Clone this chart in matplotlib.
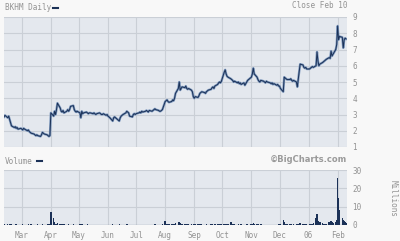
import matplotlib
matplotlib.use("Agg")
import matplotlib.pyplot as plt
from matplotlib.lines import Line2D
import pandas as pd

# month segments: (first day, last day) of each block of trading days
months = [("2005-02-10", "2005-02-28"), ("2005-03-01", "2005-03-31"),
          ("2005-04-01", "2005-04-30"), ("2005-05-01", "2005-05-31"),
          ("2005-06-01", "2005-06-30"), ("2005-07-01", "2005-07-31"),
          ("2005-08-01", "2005-08-31"), ("2005-09-01", "2005-09-30"),
          ("2005-10-01", "2005-10-31"), ("2005-11-01", "2005-11-30"),
          ("2005-12-01", "2005-12-31"), ("2006-01-01", "2006-01-31"),
          ("2006-02-01", "2006-02-10")]

# daily close, one list per month
close_feb05 = [2.85, 2.95, 2.8, 2.9, 2.7, 2.5, 2.3, 2.2, 2.25, 2.15, 2.2, 2.1, 2.15]
close_mar05 = [2.1, 2.05, 2.15, 2.1, 2.0, 2.05, 1.95, 1.9, 1.85, 1.8, 1.75, 1.7,
               1.75, 1.7, 1.65, 1.75, 1.9, 1.85, 1.8, 1.75, 1.7, 1.65, 1.7]
close_apr05 = [3.1, 2.9, 3.2, 3.0, 3.3, 3.7, 3.4, 3.2, 3.15, 3.25, 3.1, 3.2, 3.3,
               3.2, 3.3, 3.5, 3.55, 3.3, 3.2, 3.15, 3.2]
close_may05 = [3.1, 2.8, 3.2, 3.05, 3.1, 3.15, 3.1, 3.05, 3.1, 3.1, 3.05, 3.1,
               3.05, 3.0, 3.05, 3.1, 3.05, 3.0, 3.0, 3.05, 2.95, 3.0]
close_jun05 = [2.9, 2.85, 2.8, 2.6, 2.8, 2.85, 2.8, 2.75, 2.6, 2.8, 2.9, 2.95,
               3.0, 3.1, 3.2, 3.15, 3.1, 2.9, 2.85, 3.0, 3.05, 3.0]
close_jul05 = [3.05, 3.1, 3.15, 3.1, 3.2, 3.15, 3.2, 3.25, 3.2, 3.15, 3.25, 3.2,
               3.25, 3.3, 3.35, 3.3, 3.25, 3.2, 3.2, 3.25, 3.3]
close_aug05 = [3.8, 3.85, 3.9, 3.8, 3.75, 3.8, 3.9, 3.85, 4.0, 4.3, 4.6, 5.0,
               4.5, 4.6, 4.7, 4.65, 4.75, 4.6, 4.55, 4.6, 4.5, 4.4, 4.1]
close_sep05 = [4.0, 4.1, 4.05, 4.15, 4.3, 4.35, 4.4, 4.35, 4.3, 4.4, 4.45, 4.5,
               4.55, 4.65, 4.7, 4.6, 4.75, 4.85, 4.95, 5.0, 4.95, 5.05]
close_oct05 = [5.6, 5.75, 5.5, 5.35, 5.3, 5.2, 5.15, 5.1, 5.0, 5.05, 4.95, 5.0,
               4.9, 4.95, 4.85, 4.95, 4.8, 4.9, 5.0, 5.1, 5.25]
close_nov05 = [5.3, 5.5, 5.85, 5.5, 5.3, 5.15, 5.05, 5.0, 5.1, 5.05, 5.0, 4.95,
               5.05, 5.0, 4.95, 4.9, 4.95, 4.85, 4.9, 4.8, 4.85, 4.75]
close_dec05 = [4.75, 4.6, 4.4, 5.3, 5.25, 5.2, 5.15, 5.15, 5.2, 5.1, 5.05, 5.1,
               5.0, 4.7, 5.2, 5.65, 6.1, 6.05, 5.9, 5.85, 5.9, 5.8]
close_jan06 = [5.8, 5.85, 5.9, 5.95, 5.9, 6.0, 6.85, 6.3, 6.0, 6.1, 6.2, 6.25,
               6.3, 6.35, 6.4, 6.5, 6.45, 6.9, 6.6, 6.7, 7.0, 7.3]
close_feb06 = [8.45, 7.6, 7.8, 7.75, 7.1, 7.6, 7.7, 7.65]

# daily volume in millions
vol_feb05 = [0.3, 0.2, 0.3, 0.2, 0.8, 0.4, 0.3, 0.2, 0.2, 0.3, 0.2, 0.2, 0.2]
vol_mar05 = [0.2, 0.3, 0.2, 0.2, 0.2, 0.5, 0.2, 0.2, 0.3, 0.2, 0.2, 0.2, 0.2,
             0.3, 0.2, 0.2, 0.4, 0.2, 0.2, 0.2, 0.3, 0.2, 0.3]
vol_apr05 = [7.2, 4.0, 1.5, 0.6, 0.5, 1.0, 0.4, 0.3, 0.3, 0.2, 0.3, 0.2, 0.2,
             0.3, 0.2, 0.2, 0.3, 0.2, 0.2, 0.2, 0.2]
vol_may05 = [0.3, 0.6, 0.3, 0.2, 0.2, 0.2, 0.3, 0.2, 0.2, 0.2, 0.2, 0.2, 0.2,
             0.2, 0.2, 0.2, 0.2, 0.2, 0.2, 0.2, 0.2, 0.2]
vol_jun05 = [0.2, 0.2, 0.2, 0.3, 0.2, 0.2, 0.2, 0.2, 0.3, 0.2, 0.2, 0.2, 0.2,
             0.2, 0.3, 0.2, 0.2, 0.2, 0.2, 0.2, 0.2, 0.2]
vol_jul05 = [0.2, 0.2, 0.2, 0.2, 0.2, 0.2, 0.2, 0.2, 0.2, 0.2, 0.2, 0.2, 0.2,
             0.2, 0.3, 0.2, 0.2, 0.2, 0.2, 0.2, 0.3]
vol_aug05 = [2.2, 0.8, 0.6, 0.4, 0.5, 0.4, 0.6, 0.5, 0.8, 1.2, 1.4, 1.6, 1.0,
             0.6, 0.5, 0.4, 0.5, 0.3, 0.3, 0.3, 0.3, 0.2, 0.4]
vol_sep05 = [0.5, 0.3, 0.3, 0.2, 0.3, 0.3, 0.2, 0.2, 0.2, 0.3, 0.2, 0.2, 0.3,
             0.3, 0.2, 0.2, 0.3, 0.3, 0.4, 0.3, 0.3, 0.4]
vol_oct05 = [0.8, 0.6, 0.4, 0.5, 0.4, 1.8, 0.6, 0.4, 0.3, 0.3, 0.2, 0.3, 0.2,
             0.2, 0.3, 0.2, 0.2, 0.2, 0.3, 0.3, 0.4]
vol_nov05 = [0.5, 0.6, 1.0, 0.5, 0.3, 0.3, 0.2, 0.2, 0.3, 0.2, 0.2, 0.2, 0.2,
             0.2, 0.2, 0.2, 0.2, 0.2, 0.2, 0.2, 0.2, 0.3]
vol_dec05 = [0.4, 0.8, 2.8, 1.5, 0.6, 0.4, 0.3, 0.3, 0.3, 0.2, 0.2, 0.3, 0.3,
             0.5, 0.8, 0.6, 1.0, 0.6, 0.5, 0.4, 0.3, 0.3]
vol_jan06 = [0.4, 0.5, 0.6, 0.8, 1.2, 3.9, 6.1, 2.0, 1.2, 1.5, 1.0, 0.8, 0.6,
             0.7, 0.8, 1.5, 1.2, 2.0, 1.5, 1.2, 1.8, 3.0]
vol_feb06 = [25.5, 15.0, 8.0, 4.0, 3.0, 2.0, 1.5, 1.0]

closes = [close_feb05, close_mar05, close_apr05, close_may05, close_jun05,
          close_jul05, close_aug05, close_sep05, close_oct05, close_nov05,
          close_dec05, close_jan06, close_feb06]
volumes = [vol_feb05, vol_mar05, vol_apr05, vol_may05, vol_jun05, vol_jul05,
           vol_aug05, vol_sep05, vol_oct05, vol_nov05, vol_dec05, vol_jan06,
           vol_feb06]

month_ticks = ["2005-03-01", "2005-04-01", "2005-05-01", "2005-06-01",
               "2005-07-01", "2005-08-01", "2005-09-01", "2005-10-01",
               "2005-11-01", "2005-12-01", "2006-01-01", "2006-02-01"]
month_labels = ["Mar", "Apr", "May", "Jun", "Jul", "Aug", "Sep", "Oct",
                "Nov", "Dec", "06", "Feb"]

dates, price, vol = [], [], []
for (start, end), c, v in zip(months, closes, volumes):
    days = pd.bdate_range(start, end)
    n = min(len(days), len(c), len(v))
    dates += list(days[:n])
    price += c[:n]
    vol += v[:n]

BG = "#e4e8ee"
GRID = "#cacfd6"
NAVY = "#1b3157"
TXT = "#939393"
MONO = "DejaVu Sans Mono"

fig = plt.figure(figsize=(4.0, 2.41), dpi=100, facecolor="#f8f8f8")
ax1 = fig.add_axes([0.01, 1 - 147 / 241, 0.8575, 130 / 241])
ax2 = fig.add_axes([0.01, 1 - 225 / 241, 0.8575, 55 / 241])

xmin = pd.Timestamp("2005-02-10")
xmax = pd.Timestamp("2006-02-11")
ticks = [pd.Timestamp(d) for d in month_ticks]

for ax in (ax1, ax2):
    ax.set_facecolor(BG)
    ax.set_xlim(xmin, xmax)
    ax.set_xticks(ticks)
    ax.grid(True, color=GRID, linewidth=0.8)
    ax.set_axisbelow(True)
    ax.yaxis.tick_right()
    ax.tick_params(length=0, labelsize=5.5, labelcolor=TXT, pad=4)
    for s in ax.spines.values():
        s.set_visible(False)

ax1.plot(dates, price, color="#7d98bd", linewidth=1.7)
ax1.plot(dates, price, color=NAVY, linewidth=0.7)
ax1.set_ylim(1, 9)
ax1.set_yticks(range(1, 10))
ax1.set_xticklabels([])
for lab in ax1.get_yticklabels():
    lab.set_family(MONO)

ax2.bar(dates, vol, width=1.6, color=NAVY, linewidth=0)
ax2.set_ylim(0, 30)
ax2.set_yticks([0, 10, 20, 30])
ax2.set_xticklabels(month_labels, family=MONO)
for lab in ax2.get_yticklabels():
    lab.set_family(MONO)
ax2.axhline(0.2, color=NAVY, linewidth=0.8)

fig.text(5 / 400, 1 - 8 / 241, "BKHM Daily", fontsize=5.5, color=TXT,
         family=MONO, va="center", ha="left")
fig.add_artist(Line2D([53 / 400, 58 / 400], [1 - 8 / 241] * 2, color=NAVY,
                      linewidth=1.5, transform=fig.transFigure))
fig.text(347 / 400, 1 - 5 / 241, "Close Feb 10", fontsize=5.5, color=TXT,
         family=MONO, va="center", ha="right")
fig.text(5 / 400, 1 - 161 / 241, "Volume", fontsize=5.5, color=TXT,
         family=MONO, va="center", ha="left")
fig.add_artist(Line2D([37 / 400, 42 / 400], [1 - 161 / 241] * 2, color=NAVY,
                      linewidth=1.5, transform=fig.transFigure))
fig.text(347 / 400, 1 - 160 / 241, "\u00a9BigCharts.com", fontsize=6,
         color="#9a9a9a", weight="bold", va="center", ha="right")
fig.text(393 / 400, 1 - 199 / 241, "Millions", fontsize=5.5, color=TXT,
         family=MONO, rotation=270, va="center", ha="center")

fig.savefig("out.png", dpi=100, facecolor=fig.get_facecolor())
